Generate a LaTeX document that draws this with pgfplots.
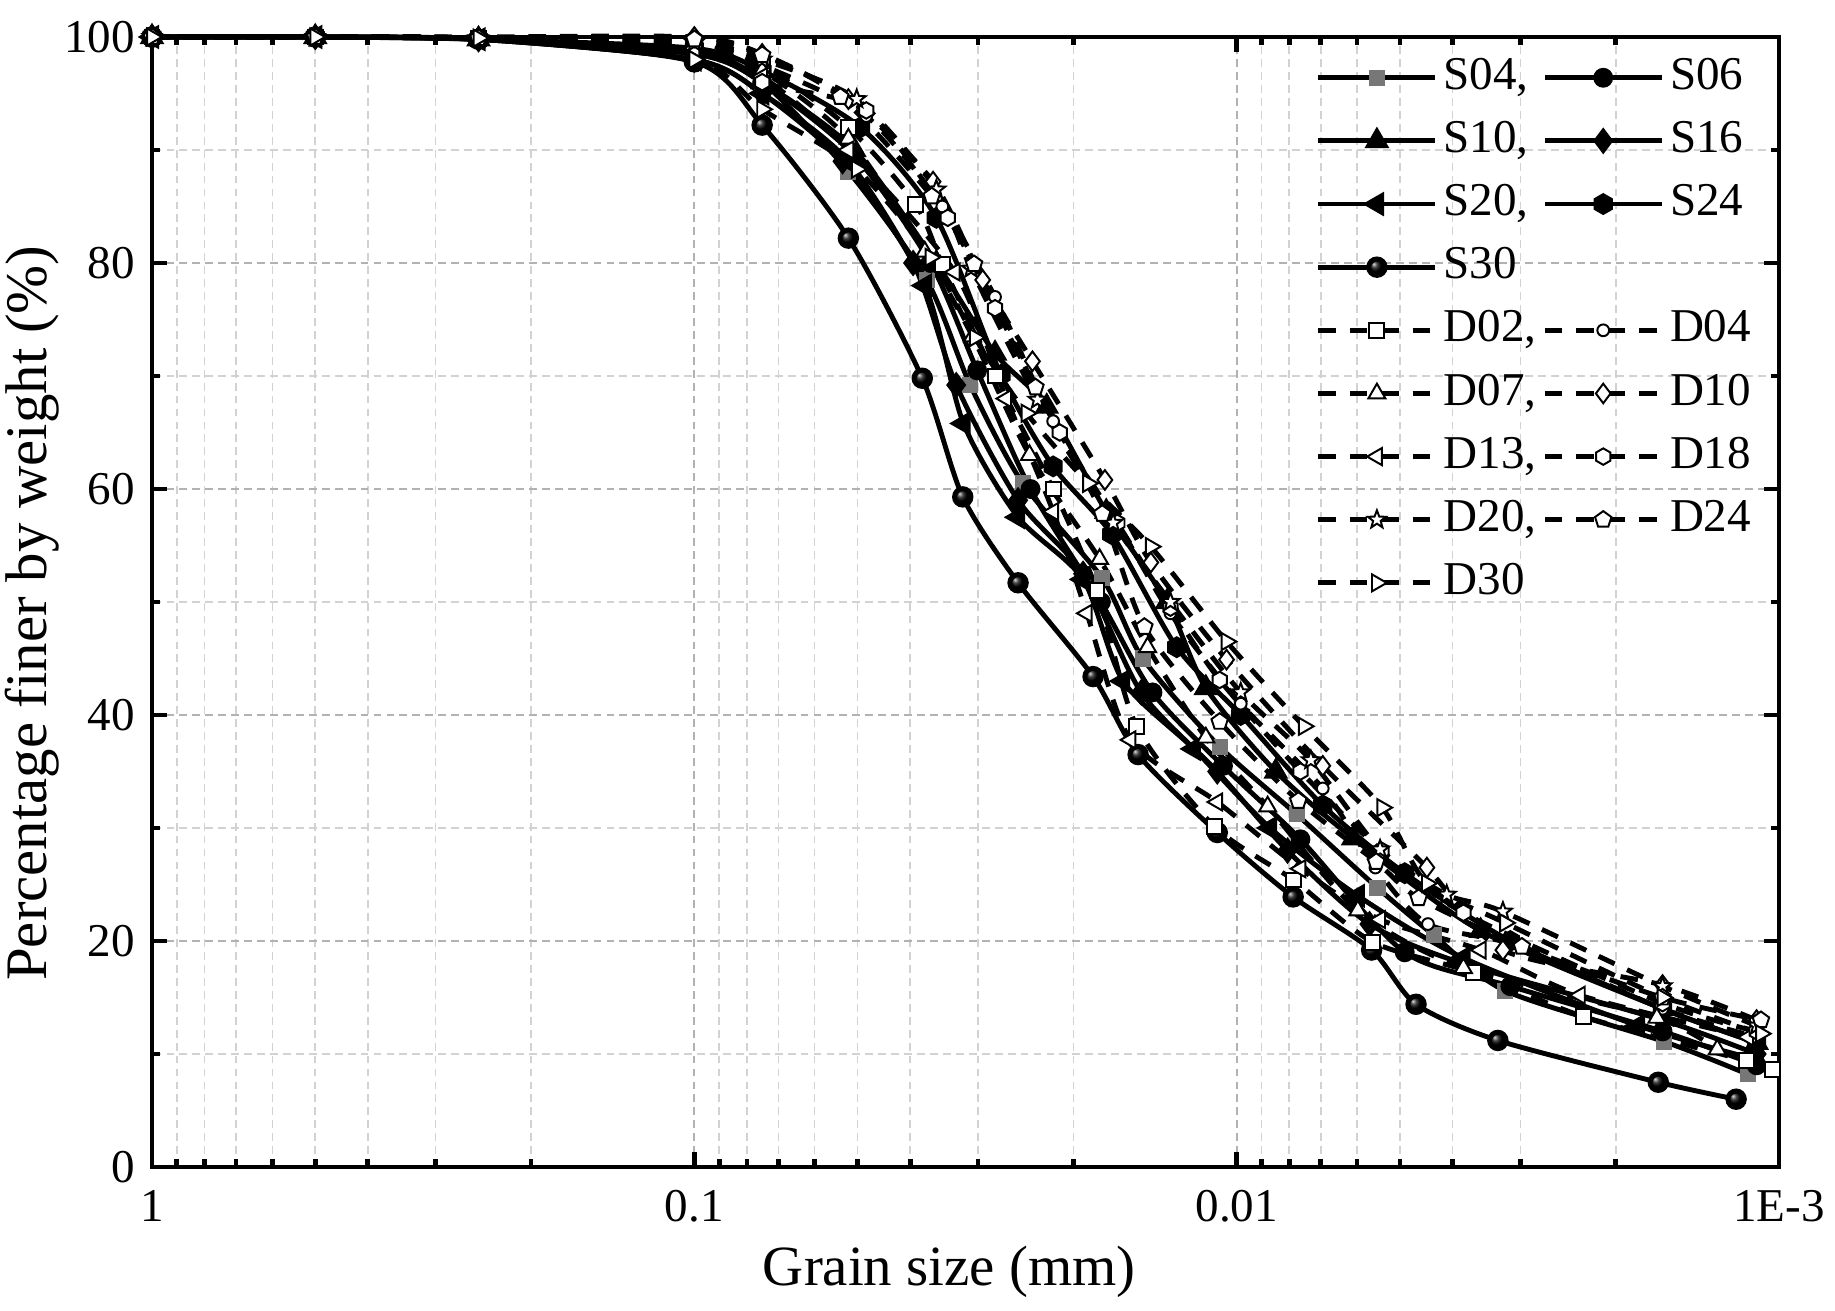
\documentclass[border=0pt]{standalone}
\usepackage{fontspec}
\setmainfont{Liberation Serif}
\usepackage{pgfplots}
\pgfplotsset{compat=1.18}
\definecolor{sgray}{HTML}{777777}
\tikzset{omark/.style={solid, fill=white, draw=black, line width=0.5pt}}

\pgfdeclareplotmark{hexagon}{%
 \pgfpathmoveto{\pgfpointpolar{90}{\pgfplotmarksize}}%
 \pgfpathlineto{\pgfpointpolar{150}{\pgfplotmarksize}}%
 \pgfpathlineto{\pgfpointpolar{210}{\pgfplotmarksize}}%
 \pgfpathlineto{\pgfpointpolar{270}{\pgfplotmarksize}}%
 \pgfpathlineto{\pgfpointpolar{330}{\pgfplotmarksize}}%
 \pgfpathlineto{\pgfpointpolar{30}{\pgfplotmarksize}}%
 \pgfpathclose\pgfusepathqfillstroke}
\pgfdeclareplotmark{ostar}{%
 \pgfpathmoveto{\pgfpointpolar{90}{\pgfplotmarksize}}%
 \pgfpathlineto{\pgfpointpolar{126}{0.42\pgfplotmarksize}}%
 \pgfpathlineto{\pgfpointpolar{162}{\pgfplotmarksize}}%
 \pgfpathlineto{\pgfpointpolar{198}{0.42\pgfplotmarksize}}%
 \pgfpathlineto{\pgfpointpolar{234}{\pgfplotmarksize}}%
 \pgfpathlineto{\pgfpointpolar{270}{0.42\pgfplotmarksize}}%
 \pgfpathlineto{\pgfpointpolar{306}{\pgfplotmarksize}}%
 \pgfpathlineto{\pgfpointpolar{342}{0.42\pgfplotmarksize}}%
 \pgfpathlineto{\pgfpointpolar{18}{\pgfplotmarksize}}%
 \pgfpathlineto{\pgfpointpolar{54}{0.42\pgfplotmarksize}}%
 \pgfpathclose\pgfusepathqfillstroke}

\begin{document}
\begin{tikzpicture}
\useasboundingbox (-38.76pt,-36.47pt) rectangle (429.17pt,297.59pt);
\begin{axis}[
  scale only axis, width=414.9pt, height=288.15pt,
  at={(0,0)}, anchor=south west,
  xmode=log, x dir=reverse, xmin=0.001, xmax=1, ymin=0, ymax=100,
  clip=false,
  font=\fontsize{12}{14}\selectfont,
  /pgf/number format/assume math mode=true,
  xtick={1,0.1,0.01,0.001}, xticklabels={1,0.1,0.01,1E-3},
  minor xtick={0.002,0.003,0.004,0.005,0.006,0.007,0.008,0.009,0.02,0.03,0.04,0.05,0.06,0.07,0.08,0.09,0.2,0.3,0.4,0.5,0.6,0.7,0.8,0.9},
  ytick={0,20,40,60,80,100}, minor ytick={10,30,50,70,90},
  grid=both,
  major grid style={gray!60, line width=0.45pt, dash pattern=on 2pt off 1.3pt},
  minor grid style={gray!35, line width=0.4pt, dash pattern=on 2pt off 1.3pt},
  tick align=inside, major tick length=3.8pt, minor tick length=2pt,
  every tick/.style={black, line width=1.2pt},
  axis line style={line width=1.2pt},
  xticklabel shift=2.5pt,
  yticklabel shift=0.8pt,
  xlabel={Grain size (mm)}, ylabel={Percentage finer by weight (\%)},
  every axis x label/.style={at={(axis description cs:0.49,-0.093)}, anchor=center, font=\fontsize{14.5}{17}\selectfont},
  every axis y label/.style={at={(axis description cs:-0.0735,0.49)}, rotate=90, anchor=center, font=\fontsize{15}{17}\selectfont},
  legend columns=2, legend cell align=left,
  legend style={draw=none, fill=none, at={(axis description cs:0.7077,0.9995)}, anchor=north west,
    font=\fontsize{12}{14}\selectfont, column sep=0pt, row sep=0pt,
    nodes={inner sep=1.5pt, text height=9.5pt, text depth=3.6pt}},
  legend image code/.code={\draw[mark repeat=2,mark phase=2,#1] plot coordinates {(0pt,0pt) (14.9pt,0pt) (29.8pt,0pt)};},
  sline/.style={black, line width=1.25pt, smooth, tension=0.45, mark size=1.9pt},
  dline/.style={black, line width=1.25pt, dash pattern=on 4.5pt off 3.5pt, smooth, tension=0.45, mark size=1.9pt},
]
% ---------- S series ----------
\addplot[sline, mark=square*, mark options={solid, fill=sgray, draw=sgray, line width=0.3pt, mark size=1.9pt}] coordinates {
(1,100) (0.5,100) (0.25,99.8) (0.1,98.8) (0.075,96.0) (0.052,88.1) (0.0373,78.5) (0.031,69.2) (0.0248,60.5) (0.0177,52.1) (0.0149,45.0) (0.01075,37.2) (0.00775,31.2) (0.0055,24.7) (0.00433,20.5) (0.0032,15.6) (0.00163,11.1) (0.00114,8.2)};
\addlegendentry{S04,}
\addplot[sline, mark=*, mark options={solid, fill=black, mark size=1.9pt}] coordinates {
(1,100) (0.5,100) (0.25,99.8) (0.1,98.5) (0.075,96) (0.0507,89.5) (0.0367,80) (0.0301,70.5) (0.0240,60) (0.0178,50) (0.0143,42) (0.0106,35.5) (0.00763,29) (0.0049,19) (0.00313,16) (0.00164,12) (0.0011,9)};
\addlegendentry{S06}
\addplot[sline, mark=triangle*, mark options={solid, fill=black, mark size=2.4pt}] coordinates {
(1,100) (0.5,100) (0.25,99.8) (0.1,98.5) (0.075,96) (0.0507,90) (0.0358,80) (0.0279,72) (0.0224,67.3) (0.0174,58) (0.01345,50) (0.0114,42.4) (0.00847,35) (0.0061,29.1) (0.00355,20.9) (0.00164,14) (0.0011,11)};
\addlegendentry{S10,}
\addplot[sline, mark=diamond*, mark options={solid, fill=black, mark size=2.4pt}] coordinates {
(1,100) (0.5,100) (0.25,99.8) (0.1,98) (0.075,95) (0.0533,89) (0.0395,80) (0.0329,69.2) (0.0253,59) (0.0192,52.5) (0.015,42) (0.01086,35) (0.00806,28) (0.00569,21.5) (0.00382,18) (0.00164,13) (0.0011,10)};
\addlegendentry{S16}
\addplot[sline, mark=triangle*, mark options={solid, fill=black, rotate=90, mark size=2.4pt}] coordinates {
(1,100) (0.5,100) (0.25,99.8) (0.1,98) (0.075,95) (0.052,89) (0.0376,78) (0.0319,65.8) (0.0253,57.5) (0.0192,52) (0.0162,43) (0.012,37) (0.00868,30) (0.00598,24) (0.00382,18.5) (0.00182,12.5) (0.0011,9.5)};
\addlegendentry{S20,}
\addplot[sline, mark=hexagon, mark options={solid, fill=black, mark size=2.1pt}] coordinates {
(1,100) (0.5,100) (0.25,99.8) (0.1,99) (0.075,97) (0.0494,92) (0.0358,84) (0.0272,70.1) (0.0218,62) (0.017,56) (0.0129,46) (0.00983,40) (0.00694,32) (0.0049,26) (0.00313,20) (0.00164,14) (0.0011,11)};
\addlegendentry{S24}
\addplot[sline, mark=ball, mark options={solid, ball color=black, mark size=2.1pt}] coordinates {
(1,100) (0.5,100) (0.25,99.8) (0.1,97.8) (0.075,92.2) (0.052,82.2) (0.038,69.8) (0.032,59.3) (0.0253,51.7) (0.0184,43.4) (0.0152,36.5) (0.01086,29.6) (0.00787,23.9) (0.00564,19.2) (0.00467,14.4) (0.0033,11.2) (0.00167,7.5) (0.0012,6.0)};
\addlegendentry{S30}
\addlegendimage{empty legend}
\addlegendentry{}
% ---------- D series ----------
\addplot[dline, mark=square*, mark options={omark, mark size=1.9pt}] coordinates {
(1,100) (0.5,100) (0.25,99.9) (0.1,99.2) (0.075,97.5) (0.052,92) (0.0391,85.2) (0.0349,79.9) (0.0279,70) (0.0218,60) (0.0181,51) (0.0153,39) (0.01097,30.1) (0.00786,25.4) (0.00561,19.9) (0.00366,17.2) (0.00229,13.3) (0.00115,9.4) (0.00103,8.6)};
\addlegendentry{D02,}
\addplot[dline, mark=*, mark options={omark, mark size=1.5pt}] coordinates {
(1,100) (0.5,100) (0.25,99.9) (0.1,99.5) (0.075,97.5) (0.0482,93) (0.0349,85) (0.0279,77) (0.0218,66) (0.0166,57) (0.01325,49) (0.00983,41) (0.00694,33.5) (0.00555,26.5) (0.00444,21.5) (0.00298,19.5) (0.00164,14) (0.0011,11.5)};
\addlegendentry{D04}
\addplot[dline, mark=triangle*, mark options={omark, mark size=2.5pt}] coordinates {
(1,100) (0.5,100) (0.25,99.9) (0.1,99) (0.075,97) (0.052,91) (0.0376,81) (0.0307,73.5) (0.0241,63) (0.0179,53.8) (0.0146,46.0) (0.0114,38) (0.00877,31.9) (0.00598,22.7) (0.00382,17.6) (0.00168,13.2) (0.0013,10.4)};
\addlegendentry{D07,}
\addplot[dline, mark=diamond*, mark options={omark, mark size=2.5pt}] coordinates {
(1,100) (0.5,100) (0.25,100) (0.1,100) (0.075,98.5) (0.052,94.5) (0.0363,87.2) (0.0294,78.5) (0.0238,71.3) (0.0175,60.8) (0.0144,53.5) (0.01044,44.9) (0.00694,35.5) (0.00446,26.5) (0.00323,19.2) (0.00164,16.1) (0.0011,13.0)};
\addlegendentry{D10}
\addplot[dline, mark=triangle*, mark options={omark, rotate=90, mark size=2.5pt}] coordinates {
(1,100) (0.5,100) (0.25,99.9) (0.1,99) (0.075,96.5) (0.052,90) (0.0331,79.2) (0.0266,68) (0.0218,58) (0.0189,49) (0.0157,37.8) (0.01086,32.3) (0.00763,26.4) (0.00544,21.9) (0.00355,19.2) (0.00233,15.2) (0.00114,11.5)};
\addlegendentry{D13,}
\addplot[dline, mark=hexagon, mark options={omark, mark size=2.1pt}] coordinates {
(1,100) (0.5,100) (0.25,99.9) (0.1,99.8) (0.075,96.0) (0.0482,93.5) (0.0341,84) (0.0279,76) (0.0212,65) (0.0166,57) (0.01325,49.5) (0.01075,43.1) (0.00763,35) (0.00541,28) (0.00382,22.5) (0.00164,14.5) (0.0011,12)};
\addlegendentry{D18}
\addplot[dline, mark=ostar, mark options={omark, mark size=2.4pt}] coordinates {
(1,100) (0.5,100) (0.25,99.9) (0.1,99.5) (0.075,98) (0.0502,94.5) (0.0358,86.5) (0.0309,79.5) (0.0233,67.9) (0.0169,57.0) (0.01325,50) (0.00983,42) (0.0073,36) (0.00544,28.1) (0.0041,24.1) (0.00323,22.6) (0.00164,16) (0.0011,12.5)};
\addlegendentry{D20,}
\addplot[dline, mark=pentagon*, mark options={omark, mark size=2.2pt}] coordinates {
(1,100) (0.5,100) (0.25,99.9) (0.1,99.8) (0.075,98.4) (0.0538,94.7) (0.0365,85.9) (0.0305,79.9) (0.0235,69) (0.0177,57.8) (0.0148,47.8) (0.01075,39.4) (0.0077,32.4) (0.00553,27.0) (0.00462,23.8) (0.00298,19.5) (0.00164,15) (0.00108,13.0)};
\addlegendentry{D24}
\addplot[dline, mark=triangle*, mark options={omark, rotate=-90, mark size=2.5pt}] coordinates {
(1,100) (0.5,100) (0.25,99.9) (0.1,98) (0.075,93.6) (0.0502,88.3) (0.0367,80.5) (0.0304,73.4) (0.0244,66.7) (0.0188,60.5) (0.0144,54.9) (0.01044,46.5) (0.00752,39.0) (0.00539,31.8) (0.00446,25.1) (0.0032,21.6) (0.00164,15.0) (0.00108,11.8)};
\addlegendentry{D30}
\end{axis}
\end{tikzpicture}
\end{document}
